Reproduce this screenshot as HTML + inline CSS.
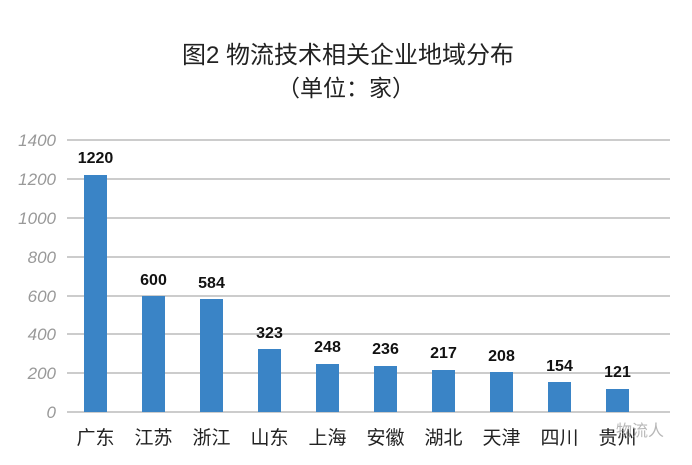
<!DOCTYPE html>
<html><head><meta charset="utf-8"><style>
body{margin:0;background:#fff;}
svg text{font-family:"Liberation Sans","Noto Sans CJK SC",sans-serif;}
</style></head><body>
<svg width="692" height="460" xmlns="http://www.w3.org/2000/svg">
<rect width="692" height="460" fill="#fff"/>
<text x="348" y="63" text-anchor="middle" font-size="24" fill="#222">图2  物流技术相关企业地域分布</text>
<text x="346" y="96" text-anchor="middle" font-size="23" fill="#222">（单位：家）</text>
<g stroke="#bcbcbc" stroke-width="1.5">
<line x1="67" x2="670" y1="140" y2="140"/><line x1="67" x2="670" y1="179" y2="179"/>
<line x1="67" x2="670" y1="218" y2="218"/><line x1="67" x2="670" y1="257" y2="257"/>
<line x1="67" x2="670" y1="296" y2="296"/><line x1="67" x2="670" y1="334" y2="334"/>
<line x1="67" x2="670" y1="373" y2="373"/><line x1="67" x2="670" y1="412" y2="412"/>
</g>
<g font-size="17" fill="#999" font-style="italic" text-anchor="end">
<text x="56" y="146">1400</text><text x="56" y="185">1200</text><text x="56" y="224">1000</text>
<text x="56" y="263">800</text><text x="56" y="302">600</text><text x="56" y="340">400</text>
<text x="56" y="379">200</text><text x="56" y="418">0</text>
</g>
<g fill="#3a84c6">
<rect x="84" y="175" width="23" height="237"/>
<rect x="142" y="296" width="23" height="116"/>
<rect x="200" y="299" width="23" height="113"/>
<rect x="258" y="349" width="23" height="63"/>
<rect x="316" y="364" width="23" height="48"/>
<rect x="374" y="366" width="23" height="46"/>
<rect x="432" y="370" width="23" height="42"/>
<rect x="490" y="372" width="23" height="40"/>
<rect x="548" y="382" width="23" height="30"/>
<rect x="606" y="389" width="23" height="23"/>
</g>
<g font-size="16" font-weight="bold" fill="#111" text-anchor="middle">
<text x="95.5" y="163">1220</text><text x="153.5" y="285">600</text><text x="211.5" y="288">584</text>
<text x="269.5" y="338">323</text><text x="327.5" y="352">248</text><text x="385.5" y="354">236</text>
<text x="443.5" y="358">217</text><text x="501.5" y="361">208</text><text x="559.5" y="371">154</text>
<text x="617.5" y="377">121</text>
</g>
<g font-size="19" fill="#222" text-anchor="middle">
<text x="95.5" y="444">广东</text><text x="153.5" y="444">江苏</text><text x="211.5" y="444">浙江</text>
<text x="269.5" y="444">山东</text><text x="327.5" y="444">上海</text><text x="385.5" y="444">安徽</text>
<text x="443.5" y="444">湖北</text><text x="501.5" y="444">天津</text><text x="559.5" y="444">四川</text>
<text x="617.5" y="444">贵州</text>
</g>
<text x="640" y="436" text-anchor="middle" font-size="16" fill="#999" opacity="0.7">物流人</text>
</svg>
</body></html>
